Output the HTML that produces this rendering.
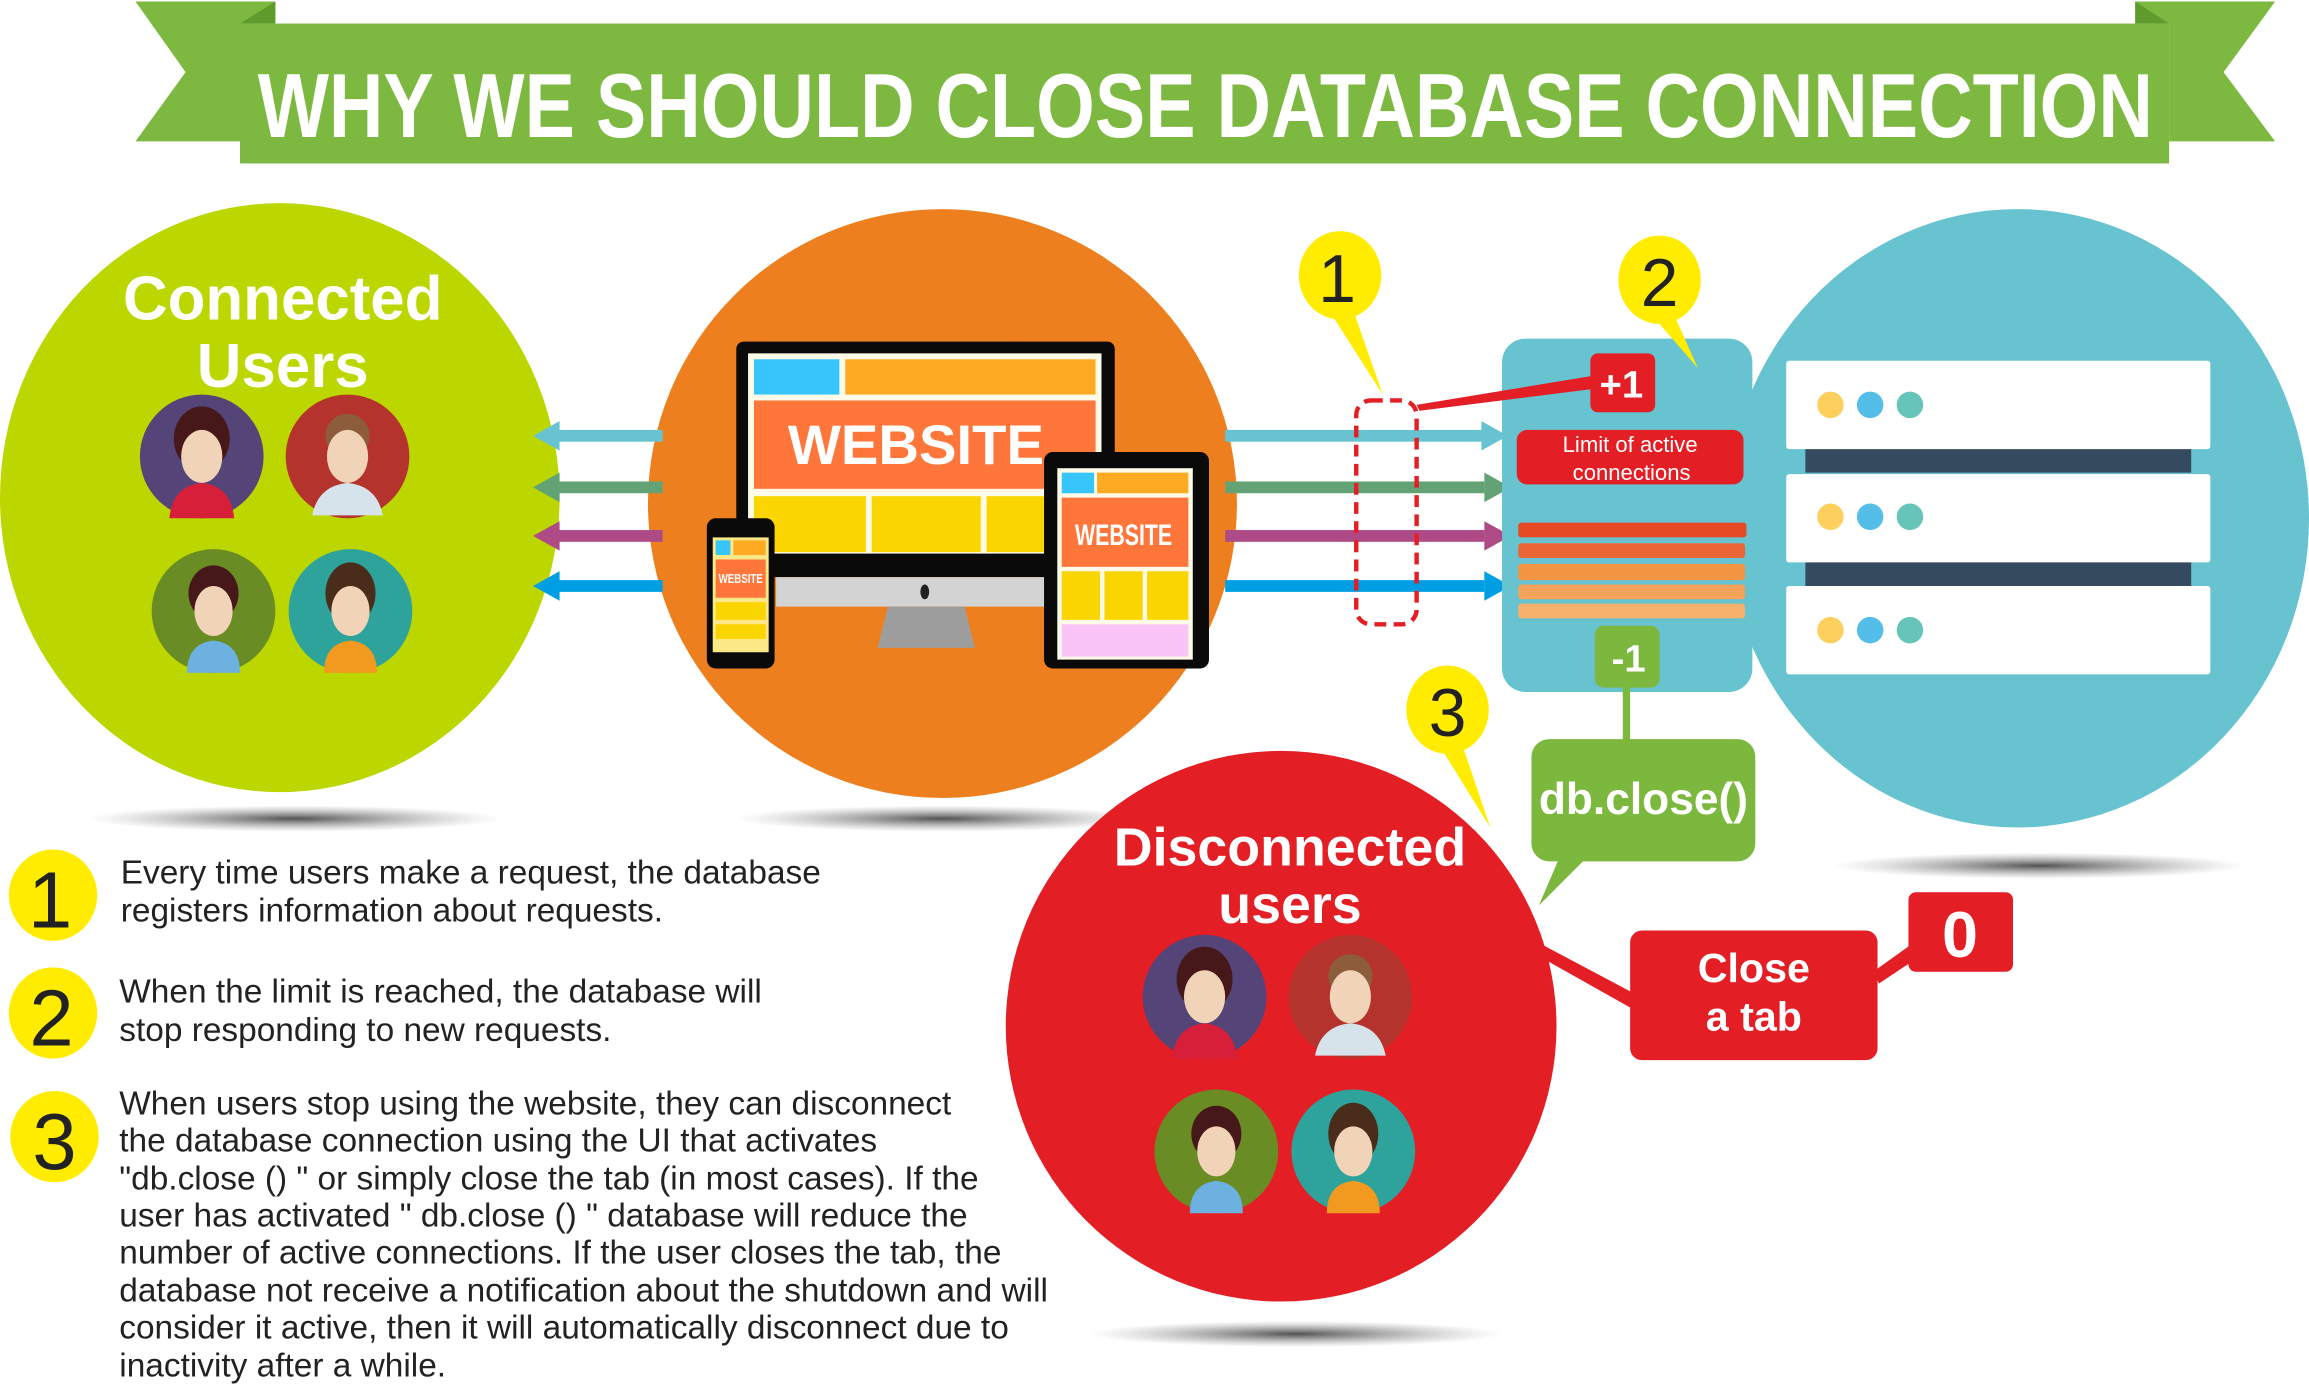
<!DOCTYPE html>
<html><head><meta charset="utf-8"><style>
html,body{margin:0;padding:0;background:#fff}
svg{display:block}
text{font-family:"Liberation Sans",sans-serif}
</style></head><body>
<svg width="2309" height="1384" viewBox="0 0 1568 940" preserveAspectRatio="none" xmlns="http://www.w3.org/2000/svg">
<defs>
<radialGradient id="sh"><stop offset="0" stop-color="#333" stop-opacity=".85"/><stop offset="1" stop-color="#888" stop-opacity="0"/></radialGradient>
</defs>
<polygon points="92,1 187,1 187,16 163,16 163,96 92,96 126,49" fill="#7db940"/>
<polygon points="1545,1 1450,1 1450,16 1473,16 1473,96 1545,96 1510,49" fill="#7db940"/>
<polygon points="163,16 187,1 187,16" fill="#5f9a2c"/>
<polygon points="1473,16 1450,1 1450,16" fill="#5f9a2c"/>
<rect x="163" y="16" width="1310" height="95" fill="#7db940"/>
<text x="175" y="93" font-size="62" font-weight="bold" fill="#fff" textLength="1287" lengthAdjust="spacingAndGlyphs">WHY WE SHOULD CLOSE DATABASE CONNECTION</text>

<ellipse cx="200" cy="556" rx="140" ry="9" fill="url(#sh)"/>
<ellipse cx="640" cy="556" rx="140" ry="9" fill="url(#sh)"/>
<ellipse cx="1385" cy="588" rx="140" ry="9" fill="url(#sh)"/>
<ellipse cx="880" cy="906" rx="140" ry="9" fill="url(#sh)"/>

<ellipse cx="190" cy="338" rx="190" ry="200" fill="#bcd600"/>
<ellipse cx="640" cy="342" rx="200" ry="200" fill="#ee7f1e"/>
<ellipse cx="1370" cy="352" rx="198" ry="210" fill="#67c3d0"/>

<g>
<rect x="378" y="292" width="72" height="8" fill="#67c3d0"/><polygon points="362,296 380,286 380,306" fill="#67c3d0"/>
<rect x="378" y="327" width="72" height="8" fill="#62a274"/><polygon points="362,331 380,321 380,341" fill="#62a274"/>
<rect x="378" y="360" width="72" height="8" fill="#ae4a86"/><polygon points="362,364 380,354 380,374" fill="#ae4a86"/>
<rect x="378" y="394" width="72" height="8" fill="#009fe3"/><polygon points="362,398 380,388 380,408" fill="#009fe3"/>
</g>
<g>
<rect x="832" y="292" width="176" height="8" fill="#67c3d0"/><polygon points="1024,296 1006,286 1006,306" fill="#67c3d0"/>
<rect x="832" y="327" width="176" height="8" fill="#62a274"/><polygon points="1026,331 1008,321 1008,341" fill="#62a274"/>
<rect x="832" y="360" width="176" height="8" fill="#ae4a86"/><polygon points="1026,364 1008,354 1008,374" fill="#ae4a86"/>
<rect x="832" y="394" width="176" height="8" fill="#009fe3"/><polygon points="1026,398 1008,388 1008,408" fill="#009fe3"/>
</g>

<text x="192" y="217" font-size="42" font-weight="bold" fill="#fff" text-anchor="middle" font-family="DejaVu Sans">Connected</text>
<text x="192" y="263" font-size="42" font-weight="bold" fill="#fff" text-anchor="middle" font-family="DejaVu Sans">Users</text>

<g id="avs">
<g transform="translate(137,310)"><circle r="42" fill="#554478"/><ellipse cx="0" cy="-12" rx="19" ry="22" fill="#47181a"/><ellipse cx="0" cy="0" rx="14" ry="18" fill="#f1d3b8"/><path d="M-22,42 Q-20,20 0,18 Q20,20 22,42 Z" fill="#d71f3a"/></g>
<g transform="translate(236,310)"><circle r="42" fill="#b5332d"/><ellipse cx="0" cy="-14" rx="15" ry="15" fill="#8d5c3b"/><ellipse cx="0" cy="0" rx="14" ry="18" fill="#f1d3b8"/><path d="M-24,40 Q-20,20 0,18 Q20,20 24,40 Z" fill="#d6e3ea"/></g>
<g transform="translate(145,415)"><circle r="42" fill="#6a8c25"/><ellipse cx="0" cy="-12" rx="17" ry="19" fill="#47181a"/><ellipse cx="0" cy="0" rx="13" ry="17" fill="#f1d3b8"/><path d="M-18,42 Q-18,22 0,20 Q18,22 18,42 Z" fill="#6db1e1"/></g>
<g transform="translate(238,415)"><circle r="42" fill="#2ea39b"/><ellipse cx="0" cy="-12" rx="17" ry="21" fill="#4a2c1a"/><ellipse cx="0" cy="0" rx="13" ry="17" fill="#f1d3b8"/><path d="M-18,42 Q-18,22 0,20 Q18,22 18,42 Z" fill="#f29a1f"/></g>
</g>

<rect x="500" y="232" width="257" height="160" rx="5" fill="#0a0a0a"/>
<rect x="508" y="240" width="240" height="136" fill="#fdfbe8"/>
<rect x="512" y="244" width="58" height="24" fill="#38c5fb"/>
<rect x="574" y="244" width="170" height="24" fill="#feab23"/>
<rect x="512" y="272" width="232" height="60" fill="#fe763a"/>
<text x="622" y="315" font-size="38" font-weight="bold" fill="#fff" text-anchor="middle" font-family="Liberation Serif" textLength="174" lengthAdjust="spacingAndGlyphs">WEBSITE</text>
<rect x="512" y="337" width="76" height="38" fill="#fbd500"/>
<rect x="592" y="337" width="74" height="38" fill="#fbd500"/>
<rect x="670" y="337" width="74" height="38" fill="#fbd500"/>
<rect x="527" y="392" width="200" height="20" fill="#d3d3d3"/>
<path d="M603,412 L655,412 L662,440 L596,440 Z" fill="#9d9d9d"/>
<ellipse cx="628" cy="402" rx="3" ry="5" fill="#222"/>
<rect x="709" y="307" width="112" height="147" rx="6" fill="#0a0a0a"/>
<rect x="718" y="318" width="92" height="130" fill="#fdfbe8"/>
<rect x="721" y="321" width="22" height="14" fill="#38c5fb"/><rect x="745" y="321" width="62" height="14" fill="#feab23"/>
<rect x="721" y="338" width="86" height="47" fill="#fe763a"/>
<text x="763" y="370" font-size="20" font-weight="bold" fill="#fff" text-anchor="middle" font-family="Liberation Serif" textLength="66" lengthAdjust="spacingAndGlyphs">WEBSITE</text>
<rect x="721" y="388" width="26" height="33" fill="#fbd500"/><rect x="750" y="388" width="26" height="33" fill="#fbd500"/><rect x="779" y="388" width="28" height="33" fill="#fbd500"/>
<rect x="721" y="424" width="86" height="22" fill="#fbc4f7"/>
<rect x="480" y="352" width="46" height="102" rx="6" fill="#0a0a0a"/>
<rect x="484" y="365" width="38" height="78" fill="#fde887"/>
<rect x="486" y="367" width="10" height="10" fill="#38c5fb"/><rect x="498" y="367" width="22" height="10" fill="#feab23"/>
<rect x="486" y="380" width="34" height="26" fill="#fe763a"/>
<text x="503" y="396" font-size="9" font-weight="bold" fill="#fff" text-anchor="middle" font-family="Liberation Serif" textLength="30" lengthAdjust="spacingAndGlyphs">WEBSITE</text>
<rect x="486" y="409" width="34" height="12" fill="#fbd500"/><rect x="486" y="424" width="34" height="10" fill="#fbd500"/>

<rect x="1020" y="230" width="170" height="240" rx="16" fill="#67c3d0"/>
<rect x="1226" y="300" width="262" height="21" fill="#354a5e"/>
<rect x="1226" y="377" width="262" height="21" fill="#354a5e"/>
<rect x="1213" y="245" width="288" height="60" rx="2" fill="#fff"/>
<rect x="1213" y="322" width="288" height="60" rx="2" fill="#fff"/>
<rect x="1213" y="398" width="288" height="60" rx="2" fill="#fff"/>
<g>
<circle cx="1243" cy="275" r="9" fill="#fdd05e"/><circle cx="1270" cy="275" r="9" fill="#55bee8"/><circle cx="1297" cy="275" r="9" fill="#67c4b8"/>
<circle cx="1243" cy="351" r="9" fill="#fdd05e"/><circle cx="1270" cy="351" r="9" fill="#55bee8"/><circle cx="1297" cy="351" r="9" fill="#67c4b8"/>
<circle cx="1243" cy="428" r="9" fill="#fdd05e"/><circle cx="1270" cy="428" r="9" fill="#55bee8"/><circle cx="1297" cy="428" r="9" fill="#67c4b8"/>
</g>
<rect x="1031" y="355" width="155" height="10" rx="2" fill="#e64a25"/>
<rect x="1031" y="369" width="154" height="10" rx="2" fill="#ea6637"/>
<rect x="1031" y="383" width="154" height="11" rx="2" fill="#f19340"/>
<rect x="1031" y="397" width="154" height="10" rx="2" fill="#f3a25a"/>
<rect x="1031" y="410" width="154" height="10" rx="2" fill="#f6b26d"/>
<rect x="1030" y="292" width="154" height="37" rx="7" fill="#e31e25"/>
<text x="1107" y="307" font-size="15" fill="#fff" text-anchor="middle">Limit of active</text>
<text x="1108" y="326" font-size="15" fill="#fff" text-anchor="middle">connections</text>
<polygon points="962,275 1083,255 1083,264 964,279" fill="#e31e25"/>
<rect x="1080" y="240" width="44" height="40" rx="5" fill="#e31e25"/>
<text x="1101" y="270" font-size="26" font-weight="bold" fill="#fff" text-anchor="middle">+1</text>
<rect x="921" y="272" width="41" height="152" rx="10" fill="none" stroke="#e31e25" stroke-width="3" stroke-dasharray="8,5"/>
<rect x="1102" y="465" width="5" height="40" fill="#7db83e"/>
<rect x="1083" y="425" width="44" height="42" rx="6" fill="#7db83e"/>
<text x="1106" y="456" font-size="26" font-weight="bold" fill="#fff" text-anchor="middle">-1</text>
<polygon points="1045,615 1060,580 1078,582" fill="#7db83e"/>
<rect x="1040" y="502" width="152" height="83" rx="12" fill="#7db83e"/>
<text x="1116" y="553" font-size="30" font-weight="bold" fill="#fff" text-anchor="middle" font-family="DejaVu Sans" textLength="142" lengthAdjust="spacingAndGlyphs">db.close()</text>

<circle cx="870" cy="697" r="187" fill="#e31e25"/>
<text x="876" y="588" font-size="36.5" font-weight="bold" fill="#fff" text-anchor="middle" font-family="DejaVu Sans">Disconnected</text>
<text x="876" y="627" font-size="36.5" font-weight="bold" fill="#fff" text-anchor="middle" font-family="DejaVu Sans">users</text>
<use href="#avs" transform="translate(681,367)"/>

<polygon points="1048,642 1112,676 1110,686 1046,650" fill="#e31e25"/>
<polygon points="1272,660 1300,640 1306,648 1276,668" fill="#e31e25"/>
<rect x="1107" y="632" width="168" height="88" rx="8" fill="#e31e25"/>
<text x="1191" y="667" font-size="28" font-weight="bold" fill="#fff" text-anchor="middle">Close</text>
<text x="1191" y="700" font-size="28" font-weight="bold" fill="#fff" text-anchor="middle">a tab</text>
<rect x="1296" y="606" width="71" height="54" rx="5" fill="#e31e25"/>
<text x="1331" y="650" font-size="44" font-weight="bold" fill="#fff" text-anchor="middle">0</text>

<polygon points="902,210 918,208 939,268" fill="#ffec00"/>
<ellipse cx="910" cy="187" rx="28" ry="30" fill="#ffec00"/>
<text x="908" y="205" font-size="46" fill="#222" text-anchor="middle">1</text>
<polygon points="1120,212 1136,212 1153,250" fill="#ffec00"/>
<ellipse cx="1127" cy="190" rx="28" ry="30" fill="#ffec00"/>
<text x="1127" y="208" font-size="46" fill="#222" text-anchor="middle">2</text>
<polygon points="976,504 992,503 1012,562" fill="#ffec00"/>
<ellipse cx="983" cy="482" rx="28" ry="30" fill="#ffec00"/>
<text x="983" y="500" font-size="46" fill="#222" text-anchor="middle">3</text>

<ellipse cx="36" cy="608" rx="30" ry="31" fill="#ffec00"/>
<text x="34" y="630" font-size="54" fill="#222" text-anchor="middle">1</text>
<ellipse cx="36" cy="688" rx="30" ry="31" fill="#ffec00"/>
<text x="35" y="710" font-size="54" fill="#222" text-anchor="middle">2</text>
<ellipse cx="37" cy="772" rx="30" ry="31" fill="#ffec00"/>
<text x="37" y="794" font-size="54" fill="#222" text-anchor="middle">3</text>
<g font-size="22.7" fill="#222">
<text x="82" y="600">Every time users make a request, the database</text>
<text x="82" y="626">registers information about requests.</text>
<text x="81" y="681">When the limit is reached, the database will</text>
<text x="81" y="707"> stop responding to new requests.</text>
<text x="81" y="757">When users stop using the website, they can disconnect</text>
<text x="81" y="782">the database connection using the UI that activates</text>
<text x="81" y="808">"db.close () " or simply close the tab (in most cases). If the</text>
<text x="81" y="833">user has activated " db.close () " database will reduce the</text>
<text x="81" y="858">number of active connections. If the user closes the tab, the</text>
<text x="81" y="884">database not receive a notification about the shutdown and will</text>
<text x="81" y="909"> consider it active, then it will automatically disconnect due to</text>
<text x="81" y="935">inactivity after a while.</text>
</g>
</svg>
</body></html>
